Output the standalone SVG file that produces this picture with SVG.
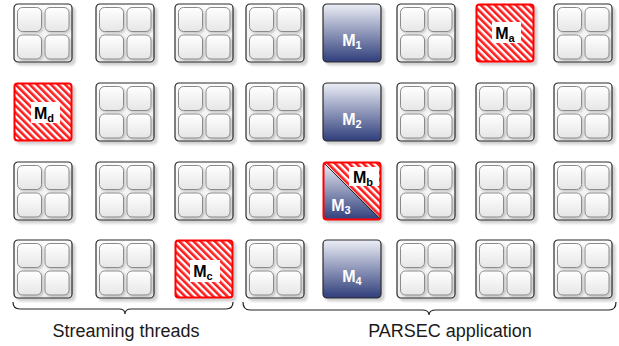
<svg xmlns="http://www.w3.org/2000/svg" xmlns:xlink="http://www.w3.org/1999/xlink" width="619" height="346" viewBox="0 0 619 346">
<style>
.outer{fill:url(#gTile);stroke:#2b2b2b;stroke-width:1.2}
.inner{fill:url(#gInner);stroke:#8a8a8a;stroke-width:1}
.blue{fill:url(#gBlue);stroke:#2b2b2b;stroke-width:1.2}
.red{fill:url(#hatch);stroke:#ff0000;stroke-width:2}
.lbl{font-family:"Liberation Sans",Arial,sans-serif;font-weight:bold;font-size:16px;text-anchor:middle}
.wl{fill:#ffffff}
.bl{fill:#000000}
.box{fill:#ffffff}
.cap{font-family:"Liberation Sans",Arial,sans-serif;font-size:18px;fill:#1a1a1a;text-anchor:middle}
.brace{fill:none;stroke:#222;stroke-width:1.2}
</style>
<defs>
<linearGradient id="gTile" x1="0" y1="0" x2="0" y2="1"><stop offset="0" stop-color="#fdfdfd"/><stop offset="1" stop-color="#eeeeee"/></linearGradient>
<linearGradient id="gInner" x1="0" y1="0" x2="0" y2="1"><stop offset="0" stop-color="#ffffff"/><stop offset="1" stop-color="#e6e6e6"/></linearGradient>
<linearGradient id="gBlue" x1="0" y1="0" x2="0" y2="1"><stop offset="0" stop-color="#eceef6"/><stop offset="1" stop-color="#2f3e7b"/></linearGradient>
<pattern id="hatch" patternUnits="userSpaceOnUse" width="5" height="5" patternTransform="rotate(-45)">
<rect width="5" height="5" fill="#ffffff"/><rect width="2.6" height="5" fill="#ff1a1a"/>
</pattern>
<filter id="sh" x="-10%" y="-10%" width="130%" height="130%"><feDropShadow dx="3" dy="3" stdDeviation="1.2" flood-color="#000" flood-opacity="0.18"/></filter>
<filter id="sh2" x="-10%" y="-10%" width="130%" height="130%"><feDropShadow dx="1.5" dy="1.5" stdDeviation="0.8" flood-color="#000" flood-opacity="0.2"/></filter>
<g id="tile">
<rect class="outer" x="0" y="0" width="58" height="58" rx="4" filter="url(#sh)"/>
<g filter="url(#sh2)">
<rect class="inner" x="3.5" y="3.5" width="24" height="24" rx="5"/>
<rect class="inner" x="31" y="3.5" width="24" height="24" rx="5"/>
<rect class="inner" x="3.5" y="31" width="24" height="24" rx="5"/>
<rect class="inner" x="31" y="31" width="24" height="24" rx="5"/>
</g>
</g>
</defs>
<!-- row 0 -->
<g id="t00"><use href="#tile" x="14" y="4"/></g>
<g id="t01"><use href="#tile" x="96" y="4"/></g>
<g id="t02"><use href="#tile" x="175" y="4"/></g>
<g id="t03"><use href="#tile" x="246" y="4"/></g>
<g id="M1"><rect class="blue" x="323" y="4" width="58" height="58" rx="4" filter="url(#sh)"/><text class="lbl wl" x="352" y="46">M<tspan font-size="11" dy="3">1</tspan></text></g>
<g id="t05"><use href="#tile" x="397" y="4"/></g>
<g id="Ma"><rect class="red" x="476.5" y="4.5" width="57" height="57" rx="3" filter="url(#sh)"/><rect class="box" x="492" y="22" width="29" height="21"/><text class="lbl bl" x="505" y="39">M<tspan font-size="11" dy="3">a</tspan></text></g>
<g id="t07"><use href="#tile" x="554" y="4"/></g>
<!-- row 1 -->
<g id="Md"><rect class="red" x="14.5" y="83.5" width="57" height="57" rx="3" filter="url(#sh)"/><rect class="box" x="31" y="102" width="29" height="21"/><text class="lbl bl" x="44" y="119">M<tspan font-size="11" dy="3">d</tspan></text></g>
<g id="t11"><use href="#tile" x="96" y="83"/></g>
<g id="t12"><use href="#tile" x="175" y="83"/></g>
<g id="t13"><use href="#tile" x="246" y="83"/></g>
<g id="M2"><rect class="blue" x="323" y="83" width="58" height="58" rx="4" filter="url(#sh)"/><text class="lbl wl" x="352" y="125">M<tspan font-size="11" dy="3">2</tspan></text></g>
<g id="t15"><use href="#tile" x="397" y="83"/></g>
<g id="t16"><use href="#tile" x="476" y="83"/></g>
<g id="t17"><use href="#tile" x="554" y="83"/></g>
<!-- row 2 -->
<g id="t20"><use href="#tile" x="14" y="162"/></g>
<g id="t21"><use href="#tile" x="96" y="162"/></g>
<g id="t22"><use href="#tile" x="175" y="162"/></g>
<g id="t23"><use href="#tile" x="246" y="162"/></g>
<g id="M3Mb">
<rect x="323" y="162" width="58" height="58" rx="3" fill="url(#gBlue)" filter="url(#sh)"/>
<path d="M324,162 L378,162 Q381,162 381,165 L381,219 Z" fill="url(#hatch)"/>
<line x1="324" y1="163" x2="380" y2="219" stroke="#222" stroke-width="1"/>
<rect x="323.5" y="162.5" width="57" height="57" rx="3" fill="none" stroke="#ff0000" stroke-width="2"/>
<rect class="box" x="349" y="167" width="30" height="19"/>
<text class="lbl bl" x="363" y="183">M<tspan font-size="11" dy="3">b</tspan></text>
<text class="lbl wl" x="341" y="211">M<tspan font-size="11" dy="3">3</tspan></text>
</g>
<g id="t25"><use href="#tile" x="397" y="162"/></g>
<g id="t26"><use href="#tile" x="476" y="162"/></g>
<g id="t27"><use href="#tile" x="554" y="162"/></g>
<!-- row 3 -->
<g id="t30"><use href="#tile" x="14" y="240"/></g>
<g id="t31"><use href="#tile" x="96" y="240"/></g>
<g id="Mc"><rect class="red" x="175.5" y="240.5" width="57" height="57" rx="3" filter="url(#sh)"/><rect class="box" x="190" y="260" width="30" height="22"/><text class="lbl bl" x="203" y="277">M<tspan font-size="11" dy="3">c</tspan></text></g>
<g id="t33"><use href="#tile" x="246" y="240"/></g>
<g id="M4"><rect class="blue" x="323" y="240" width="58" height="58" rx="4" filter="url(#sh)"/><text class="lbl wl" x="352" y="282">M<tspan font-size="11" dy="3">4</tspan></text></g>
<g id="t35"><use href="#tile" x="397" y="240"/></g>
<g id="t36"><use href="#tile" x="476" y="240"/></g>
<g id="t37"><use href="#tile" x="554" y="240"/></g>
<!-- braces -->
<g id="connectors">
<path class="brace" d="M13,302 Q13,309 20,309 L119,309 Q125,309 125,314 Q125,309 131,309 L226,309 Q233,309 233,302"/>
<path class="brace" d="M243,302 Q243,310 250,310 L422,310 Q429,310 429,315 Q429,310 436,310 L609,310 Q616,310 616,302"/>
</g>
<g id="labels">
<text class="cap" x="126" y="337">Streaming threads</text>
<text class="cap" x="450" y="337">PARSEC application</text>
</g>
</svg>
